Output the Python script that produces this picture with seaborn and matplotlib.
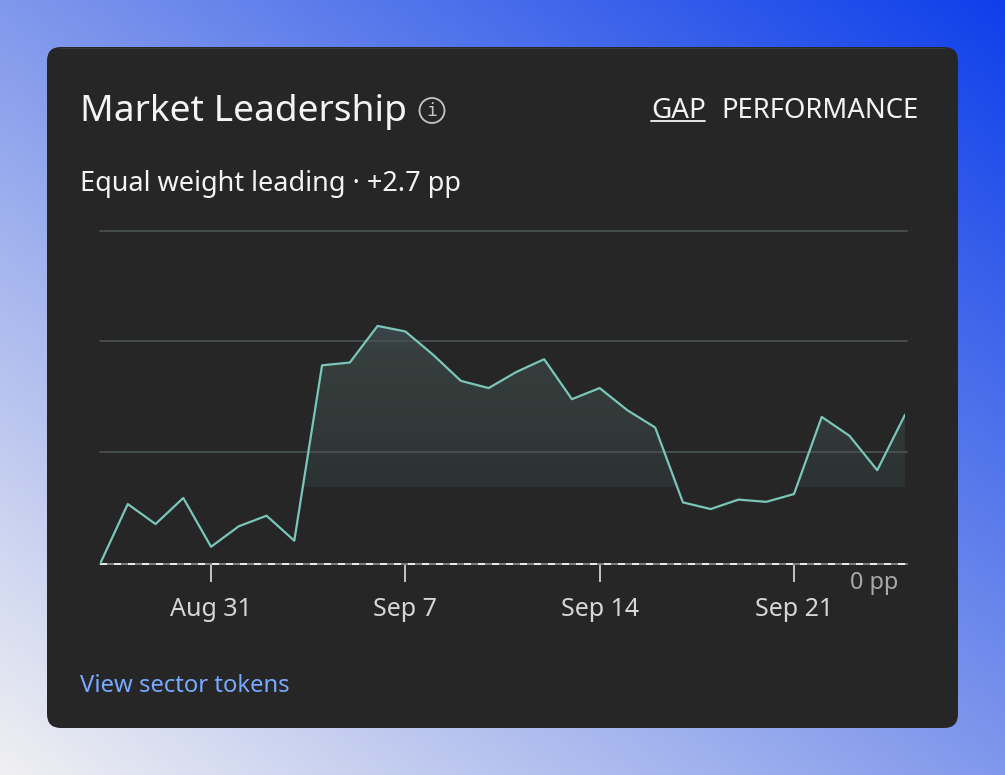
import numpy as np
import pandas as pd
import matplotlib
matplotlib.use("Agg")
import matplotlib.pyplot as plt
import matplotlib.dates as mdates
from matplotlib.colors import LinearSegmentedColormap
from matplotlib.patches import FancyBboxPatch, Circle
import seaborn as sns

# values, percentage points
start_date = "2023-08-27"
gap_pp = [0.00, 1.08, 0.72, 1.19, 0.31, 0.68, 0.87, 0.42, 3.58, 3.63,
          4.29, 4.19, 3.77, 3.30, 3.17, 3.46, 3.69, 2.97, 3.17, 2.77,
          2.46, 1.11, 0.99, 1.16, 1.12, 1.26, 2.65, 2.31, 1.69, 2.69]
grid_pp = [2.02, 4.01, 6]
tick_dates = ["2023-08-31", "2023-09-07", "2023-09-14", "2023-09-21"]
fill_floor_pp = 1.39

W, H = 1005, 775
FONT = "Noto Sans"

df = pd.DataFrame({"date": pd.date_range(start_date, periods=len(gap_pp)), "gap": gap_pp})

sns.set_style("dark")
plt.rcParams["font.family"] = [FONT, "DejaVu Sans"]

fig = plt.figure(figsize=(W / 100, H / 100), dpi=100)

# page background and card, in pixel coordinates
bg = fig.add_axes([0, 0, 1, 1])
bg.set_xlim(0, W)
bg.set_ylim(H, 0)
bg.axis("off")

# blue in the top right corner, near white in the bottom left
xx, yy = np.meshgrid(np.linspace(0, 1, 400), np.linspace(0, 1, 400))
page_cmap = LinearSegmentedColormap.from_list("page", ["#0e3fea", "#8098ec", "#f0f0f2"])
bg.imshow(0.5 * (1 - xx) + 0.5 * yy, cmap=page_cmap, vmin=0, vmax=1,
          extent=[0, W, H, 0], aspect="auto", zorder=0)

card = FancyBboxPatch((47 + 14, 47 + 14), 911 - 28, 681 - 28,
                      boxstyle="round,pad=14,rounding_size=14",
                      fc="#262626", ec="none", zorder=1)
bg.add_patch(card)
bg.plot([60, 945], [47.6, 47.6], color="#343736", lw=0.9, zorder=1.5)

bg.text(80, 112, "Market Leadership", color="#f4f4f4", fontsize=26.8, va="center", zorder=2)
bg.add_patch(Circle((432, 110.5), 12.5, fc="none", ec="#c6c6c6", lw=1.3, zorder=2))
bg.text(432, 111, "i", color="#c6c6c6", fontsize=13, family="DejaVu Sans Mono",
        ha="center", va="center", zorder=2)
bg.text(651, 111, "GAP", color="#f4f4f4", fontsize=20, va="center", zorder=2)
bg.plot([651, 705], [121, 121], color="#f4f4f4", lw=1.3, zorder=2)
bg.text(919, 111, "PERFORMANCE", color="#f4f4f4", fontsize=19.8, va="center", ha="right", zorder=2)
bg.text(80, 184, "Equal weight leading · +2.7 pp", color="#f4f4f4", fontsize=19.5, va="center", zorder=2)
bg.text(80, 686, "View sector tokens", color="#78a9ff", fontsize=17.2, va="center", zorder=2)

# chart axes: x 100-905 px, 0 pp at y=564, 6 pp at y=231
ax = fig.add_axes([100 / W, 1 - 564 / H, 805 / W, 333 / H])
ax.patch.set_alpha(0)

for g in grid_pp:
    ax.axhline(g, xmax=1.002, color="#475150", lw=1.3, zorder=3, clip_on=False)

# shaded area under the line, fades downward and stops at a floor
fill_cmap = LinearSegmentedColormap.from_list(
    "fill", [(0, "#3a454b"), (0.15, "#363f3d"), (0.6, "#323938"), (1, "#2c3131")])
x_num = mdates.date2num(df["date"])
grad = np.linspace(0, 1, 200).reshape(-1, 1)
img = ax.imshow(grad, cmap=fill_cmap, aspect="auto", zorder=2,
                extent=[x_num[0], x_num[-1], fill_floor_pp, max(gap_pp)])
area = ax.fill_between(df["date"], 0, df["gap"], color="none", lw=0)
img.set_clip_path(area.get_paths()[0], transform=ax.transData)

sns.lineplot(data=df, x="date", y="gap", ax=ax, color="#7ac6b9", lw=1.6, zorder=5)
ax.set_xlim(df["date"].iloc[0], df["date"].iloc[-1])
ax.set_ylim(0, 6)

# zero line: grey solid with white dashes on top
ax.axhline(0, xmax=1.002, color="#808080", lw=1.4, zorder=4, clip_on=False)
ax.axhline(0, xmax=1.002, color="#ececec", lw=1.4, zorder=4, clip_on=False, dashes=(3.6, 3.6))

ax.set_xlabel("")
ax.set_ylabel("")
ax.set_yticks([])
ax.set_xticks(pd.to_datetime(tick_dates))
ax.xaxis.set_major_formatter(mdates.DateFormatter("%b %-d"))
ax.tick_params(axis="x", length=13, width=1.3, color="#d0d0d0", labelcolor="#d6d6d6",
               labelsize=18, pad=10.7, bottom=True)
ax.grid(False)
for s in ax.spines.values():
    s.set_visible(False)

bg.text(898, 583, "0 pp", color="#a8a8a8", fontsize=16.8, ha="right", va="center", zorder=6)

fig.savefig("out.png", dpi=100)
